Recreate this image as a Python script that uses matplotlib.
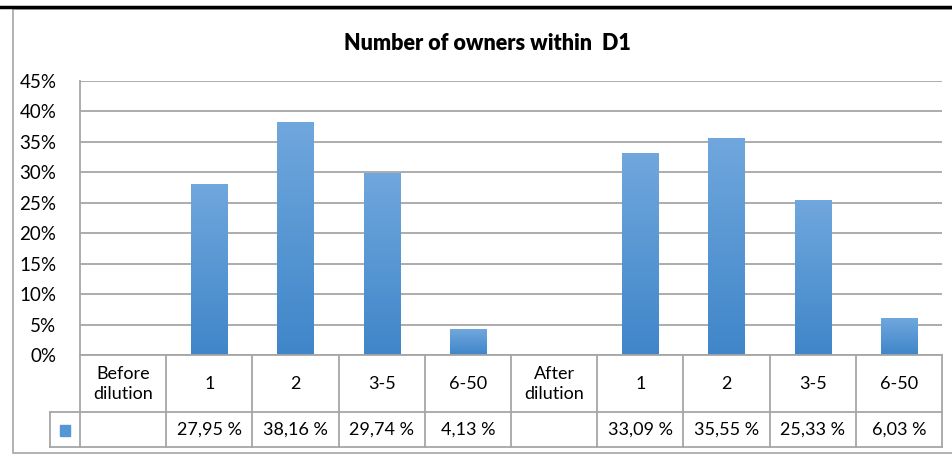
import matplotlib
matplotlib.use('Agg')
import matplotlib.pyplot as plt
import numpy as np
from matplotlib.colors import LinearSegmentedColormap
from matplotlib.patches import Rectangle

plt.rcParams['font.family'] = ['Lato', 'DejaVu Sans']

categories = ['Before\ndilution', '1', '2', '3-5', '6-50',
              'After\ndilution', '1', '2', '3-5', '6-50']
values = [np.nan, 27.95, 38.16, 29.74, 4.13, np.nan, 33.09, 35.55, 25.33, 6.03]
table_labels = ['', '27,95 %', '38,16 %', '29,74 %', '4,13 %',
                '', '33,09 %', '35,55 %', '25,33 %', '6,03 %']
yticks = [0, 5, 10, 15, 20, 25, 30, 35, 40, 45]

W, H = 953, 455
fig = plt.figure(figsize=(W / 100, H / 100), dpi=100)

def px_axes(x0, y0, x1, y1):
    return fig.add_axes([x0 / W, 1 - y1 / H, (x1 - x0) / W, (y1 - y0) / H])

# outer frame
frame = px_axes(0, 0, W, H)
frame.set_xlim(0, W)
frame.set_ylim(H, 0)
frame.axis('off')
frame.add_patch(Rectangle((13, 9), W + 10, 444, fill=False, ec='#a6a6a6', lw=1.2))
frame.plot([0, W], [6.5, 6.5], color='black', lw=2.5)

ax = px_axes(80, 81, 942, 355)
x = np.arange(len(categories))
bars = ax.bar(x, np.nan_to_num(values), width=0.42, color='none')
cmap = LinearSegmentedColormap.from_list('bluegrad', ['#3f86c9', '#70a7dd'])
grad = np.linspace(0, 1, 256).reshape(-1, 1)
for b in bars:
    h = b.get_height()
    if h > 0:
        ax.imshow(grad, extent=[b.get_x(), b.get_x() + b.get_width(), 0, h],
                  origin='lower', aspect='auto', cmap=cmap, zorder=2)
ax.set_xlim(-0.5, len(categories) - 0.5)
ax.set_ylim(0, 45)
ax.set_yticks(yticks)
ax.set_yticklabels([f'{t}%' for t in yticks], fontsize=13.5)
ax.tick_params(axis='y', length=0, pad=17)
ax.set_xticks([])
ax.yaxis.grid(True, color='#a6a6a6', lw=1.3)
ax.set_axisbelow(True)
for s in ['top', 'right', 'bottom']:
    ax.spines[s].set_visible(False)
ax.spines['left'].set_color('#a6a6a6')
ax.spines['left'].set_linewidth(1.3)

fig.text(487 / W, 1 - 44 / H, 'Number of owners within  D1', ha='center', va='center',
         fontsize=15.5, fontweight='heavy')

# data table below the axis
tab = px_axes(80, 355, 942, 447)
tab.set_xlim(-0.5, len(categories) - 0.5)
tab.set_ylim(447, 355)
tab.axis('off')
lc = '#a6a6a6'
key_w = 30 / ((942 - 80) / len(categories))
tab.plot([-0.5, len(categories) - 0.5], [355, 355], color=lc, lw=1.3, clip_on=False)
tab.plot([-0.5 - key_w, len(categories) - 0.5], [412, 412], color=lc, lw=1.3, clip_on=False)
tab.plot([-0.5 - key_w, len(categories) - 0.5], [447, 447], color=lc, lw=1.3, clip_on=False)
for i in range(len(categories) + 1):
    tab.plot([i - 0.5, i - 0.5], [355, 447], color=lc, lw=1.3, clip_on=False)
tab.plot([-0.5 - key_w, -0.5 - key_w], [412, 447], color=lc, lw=1.3, clip_on=False)
tab.add_patch(Rectangle((-0.5 - key_w / 2 - 0.06, 424.5), 0.12, 11, color='#5596d4',
                        clip_on=False))
for i, (c, t) in enumerate(zip(categories, table_labels)):
    tab.text(i, 384, c, ha='center', va='center', fontsize=13, linespacing=1.35)
    tab.text(i, 430, t, ha='center', va='center', fontsize=13)

fig.savefig('out.png', dpi=100)
